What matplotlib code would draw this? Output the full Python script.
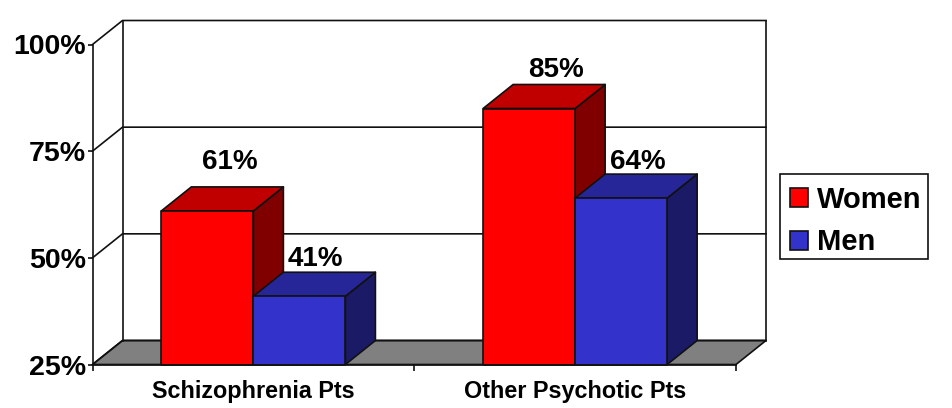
import matplotlib
matplotlib.use("Agg")
import matplotlib.pyplot as plt
from matplotlib.patches import Polygon, Patch, Rectangle
from matplotlib.lines import Line2D

categories = ["Schizophrenia Pts", "Other Psychotic Pts"]
women = [61, 85]
men = [41, 64]
y_ticks = [25, 50, 75, 100]
y_tick_labels = ["25%", "50%", "75%", "100%"]

W, H, DPI = 952, 408, 100
L, R, T, B = 92.5, 736.0, 44.5, 364.5
DX_PX, DY_PX = 30.0, 24.0
BAR_W = 0.286
EDGE = "#111111"
LW = 1.2
FONT = "Liberation Sans"

fig = plt.figure(figsize=(W / DPI, H / DPI), dpi=DPI, facecolor="white")
ax = fig.add_axes([L / W, 1 - B / H, (R - L) / W, (B - T) / H])
ax.set_xlim(-0.5, 1.5)
ax.set_ylim(25, 100)
ax.patch.set_visible(False)

dx = DX_PX / (R - L) * 2
dy = DY_PX / (B - T) * 75


def poly(pts, fc, z):
    ax.add_patch(Polygon(pts, closed=True, facecolor=fc, edgecolor=EDGE,
                         linewidth=LW, clip_on=False, zorder=z, joinstyle="round"))


def line(xs, ys, z=1):
    ax.add_line(Line2D(xs, ys, color=EDGE, linewidth=LW, clip_on=False, zorder=z))


# floor and walls
x0, x1 = -0.5, 1.5
poly([(x0, 25), (x1, 25), (x1 + dx, 25 + dy), (x0 + dx, 25 + dy)], "#808080", 1)
for v in y_ticks:
    line([x0, x0 + dx, x1 + dx], [v, v + dy, v + dy])
line([x0 + dx, x0 + dx], [25 + dy, 100 + dy])
line([x1 + dx, x1 + dx], [25 + dy, 100 + dy])


def bar(xl, v, front, top, side, z):
    xr = xl + BAR_W
    poly([(xr, 25), (xr + dx, 25 + dy), (xr + dx, v + dy), (xr, v)], side, z)
    poly([(xl, v), (xr, v), (xr + dx, v + dy), (xl + dx, v + dy)], top, z)
    poly([(xl, 25), (xr, 25), (xr, v), (xl, v)], front, z)


for i in range(len(categories)):
    bar(i - BAR_W, women[i], "#FF0000", "#C00000", "#800000", 3 + i * 2)
    bar(i, men[i], "#3333CC", "#262699", "#1A1A66", 4 + i * 2)

# value labels, offset from the top of the front face in pixels
label_offsets = [((22.5, 49), (16, 37)), ((26.5, 38.5), (17, 36))]
for i in range(len(categories)):
    for j, (vals, xc) in enumerate(((women, i - BAR_W / 2), (men, i + BAR_W / 2))):
        ox, oy = label_offsets[i][j]
        ax.annotate(f"{vals[i]}%", (xc, vals[i]), xytext=(ox * 72 / DPI, oy * 72 / DPI),
                    textcoords="offset points", ha="center", va="center",
                    fontsize=20, fontweight="bold", family=FONT, color="black",
                    annotation_clip=False, zorder=20)

for s in ("top", "right"):
    ax.spines[s].set_visible(False)
for s in ("left", "bottom"):
    ax.spines[s].set_linewidth(LW)
    ax.spines[s].set_color(EDGE)
    ax.spines[s].set_zorder(15)

ax.set_yticks(y_ticks)
ax.set_yticklabels(y_tick_labels, fontsize=20.5, fontweight="bold", family=FONT)
ax.tick_params(axis="y", length=3.5, width=LW, color=EDGE, pad=1)
ax.set_xticks([-0.5, 0.5, 1.5])
ax.set_xticklabels([])
ax.set_xticks(range(len(categories)), minor=True)
ax.set_xticklabels(categories, minor=True, fontsize=16.8, fontweight="bold", family=FONT)
ax.tick_params(axis="x", which="major", length=4, width=LW, color=EDGE)
ax.tick_params(axis="x", which="minor", length=0, pad=11.5)

# legend frame drawn separately so it can sit asymmetrically round the entries
fig.add_artist(Rectangle((780 / W, 1 - 259 / H), 148 / W, 85 / H, transform=fig.transFigure,
                         facecolor="white", edgecolor=EDGE, linewidth=LW, zorder=5))
handles = [Patch(facecolor="#FF0000", edgecolor=EDGE, linewidth=LW, label="Women"),
           Patch(facecolor="#3333CC", edgecolor=EDGE, linewidth=LW, label="Men")]
leg = fig.legend(handles=handles, loc="upper left",
                 bbox_to_anchor=(780 / W, 1 - 176 / H), bbox_transform=fig.transFigure,
                 frameon=False,
                 prop={"family": FONT, "weight": "bold", "size": 21},
                 handlelength=0.62, handleheight=0.62, handletextpad=0.31,
                 labelspacing=0.5, borderpad=0.34, borderaxespad=0)
leg.set_zorder(6)

fig.savefig("out.png", dpi=DPI)
